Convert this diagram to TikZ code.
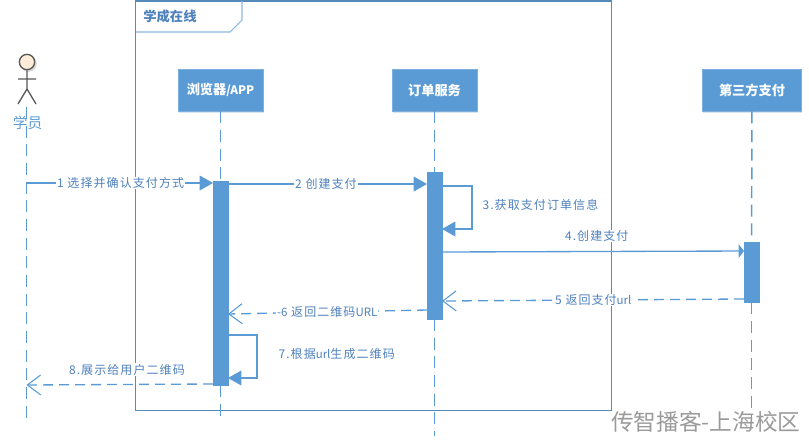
\documentclass[tikz,border=0pt]{standalone}
\usepackage{fontspec}
\newfontfamily\cjk{Noto Sans CJK SC}
\newfontfamily\cjklab[LetterSpace=9]{Noto Sans CJK SC}
\usetikzlibrary{arrows.meta,shadows,calc}
\definecolor{seq}{HTML}{5B9BD5}
\definecolor{seqt}{HTML}{4F81BD}
\definecolor{wm}{HTML}{9A9A9A}
\newcommand{\hdsize}{\fontsize{9.9}{12}\selectfont}
\newcommand{\ltn}[1]{{\cjk\fontsize{8.6}{11}\selectfont #1}}
\tikzset{
  lifebox/.style={fill=seq,draw=seq!80!white,line width=.5pt,minimum width=63.75pt,minimum height=31.5pt,inner sep=0pt,
    text=white,font=\cjk\bfseries\hdsize,drop shadow={shadow xshift=0.6pt,shadow yshift=-1.2pt,opacity=.25,fill=seq}},
  actbar/.style={fill=seq,draw=seq,line width=.3pt,minimum width=10.9pt,inner sep=0pt},
  lifeline/.style={draw=seq,line width=1.1pt,dash pattern=on 9pt off 5pt},
  syncmsg/.style={draw=seq,line width=1pt,-{Triangle[length=10pt,width=11pt,fill=seq]}},
  retmsg/.style={draw=seq,line width=1pt,dash pattern=on 7.5pt off 4.5pt,-{Straight Barb[length=10pt,width=15pt,line width=.8pt]}},
  msglabel/.style={fill=white,inner sep=.6pt,text=seqt,anchor=west,font=\cjklab\fontsize{9}{11}\selectfont},
  framebox/.style={draw=seq!85!black!95,line width=.8pt},
  fig/.style={draw=black!65,line width=1pt}
}
\begin{document}
\begin{tikzpicture}[x=0.75pt,y=-0.75pt]
\useasboundingbox (0,0) rectangle (809,444);
% frame
\node[framebox,minimum width=356.6pt,minimum height=306.8pt,inner sep=0pt] (frame) at (373.3,205.5) {};
\coordinate (tabr) at (242,1);
\coordinate (tabc) at (242,20);
\coordinate (tabb) at (230,32);
\coordinate (tabl) at (135.5,32);
\draw[framebox,draw=seq!70!white] (tabr) -- (tabc) -- (tabb) -- (tabl);
\node[text=seqt,font=\cjk\bfseries\fontsize{10}{12}\selectfont,anchor=west,inner sep=0pt] (title) at (143,16) {学成在线};
% lifeline heads
\node[lifebox] (br) at (220.5,90) {浏览器{\fontsize{8.8}{11}\selectfont/APP}};
\node[lifebox] (ord) at (434.5,90) {订单服务};
\node[lifebox,minimum width=74pt] (third) at (752,90) {第三方支付};
% activation bars
\node[actbar,minimum height=153pt] (brbar) at (220.5,283) {};
\node[actbar,minimum height=110pt] (ordbar) at (434.5,245.5) {};
\node[actbar,minimum height=45pt] (thbar) at (751.5,272) {};
% actor
\node[circle,fill=black!30,inner sep=0pt,minimum size=12.5pt,opacity=.5] at (28.5,63.5) {};
\node[circle,draw=black!65,fill=orange!15,line width=1pt,inner sep=0pt,minimum size=11.5pt] (head) at (27,62) {};
\coordinate (hip) at (27,89);
\coordinate (armL) at (18,79);
\coordinate (armR) at (36,79);
\coordinate (footL) at (18,104);
\coordinate (footR) at (36,104);
\draw[fig] (head) -- (hip) (armL) -- (armR) (footL) -- (hip) -- (footR);
\coordinate (actl) at (26.5,107);
\coordinate (actend) at (26.5,420);
\coordinate (brend) at (220.5,420);
\coordinate (ordend) at (434.5,436);
\coordinate (thend) at (751.5,424);
\draw[lifeline] (actl) -- (actend);
\draw[lifeline] (br) -- (brbar);
\draw[lifeline] (brbar) -- (brend);
\draw[lifeline] (ord) -- (ordbar);
\draw[lifeline] (ordbar) -- (ordend);
\draw[lifeline] (third) -- (thbar);
\draw[lifeline] (thbar) -- (thend);
\node[text=seq,font=\cjk\fontsize{11}{13}\selectfont,inner sep=0pt,fill=none] (actname) at (27.5,123) {学员};
% messages
\draw[syncmsg] (actl |- 0,183) -- (brbar.west |- 0,183);
\draw[syncmsg] (brbar.east |- 0,184) -- (ordbar.west |- 0,184);
\draw[syncmsg] (ordbar.east |- 0,186) -- (472,186) -- (472,229) -- (ordbar.east |- 0,229);
\draw[draw=seq,line width=1pt,-{Triangle[length=4pt,width=10pt,fill=seq]}] (ordbar.east |- 0,252) -- (thbar.west |- 0,251);
\draw[retmsg] (thbar.west |- 0,299) -- (ordbar.east |- 0,301);
\draw[retmsg] (ordbar.west |- 0,310) -- (brbar.east |- 0,314);
\draw[syncmsg] (brbar.east |- 0,335) -- (257,335) -- (257,378) -- (brbar.east |- 0,378);
\draw[retmsg] (brbar.west |- 0,384) -- (actl |- 0,385);
% labels
\node[msglabel] (l1) at (56,183) {1 选择并确认支付方式};
\node[msglabel] (l2) at (294,184) {2 创建支付};
\node[msglabel,fill=none] (l3) at (481.5,205) {3.获取支付订单信息};
\node[msglabel] (l4) at (564,236) {4.创建支付};
\node[msglabel] (l5) at (554,300) {5 返回支付\ltn{url}};
\node[msglabel] (l6) at (276,312) {\ltn{-6} 返回二维码\ltn{URL}};
\node[msglabel,fill=none] (l7) at (277.5,354) {7.根据\ltn{url}生成二维码};
\node[msglabel] (l8) at (68,369.5) {8.展示给用户二维码};
% watermark
\node[text=wm,anchor=west,inner sep=0pt,font=\cjk\fontsize{17}{19}\selectfont] (mark) at (611,421.5) {传智播客-上海校区};
\end{tikzpicture}
\end{document}
